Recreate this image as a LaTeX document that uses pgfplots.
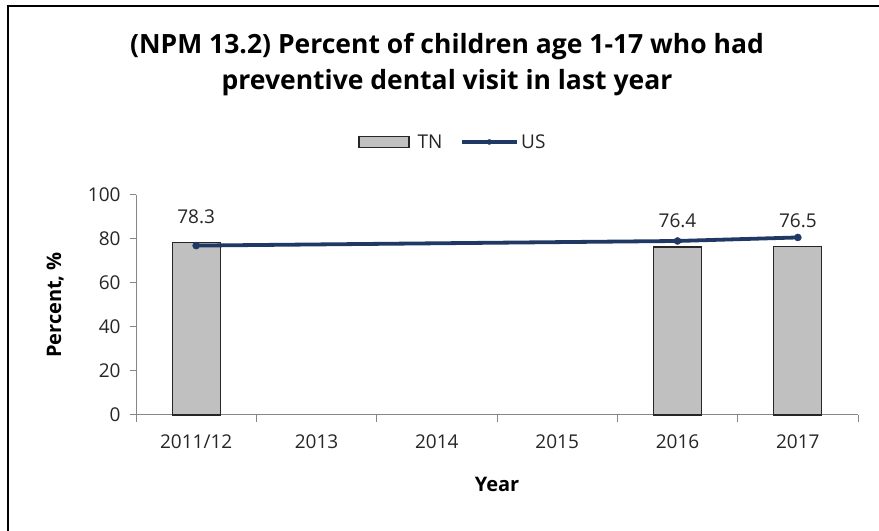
\documentclass[border=0pt]{standalone}
\usepackage{pgfplots}
\pgfplotsset{compat=1.18}
\usepackage{fontspec}
\setmainfont{Open Sans}

\definecolor{usblue}{HTML}{1F3864}
\definecolor{tngray}{HTML}{C0C0C0}
\definecolor{axisgray}{HTML}{868686}
\definecolor{txt}{HTML}{262626}

\pgfplotsset{
  /pgf/number format/assume math mode=true,
  tnlegend/.style={legend image code/.code={\draw[##1] (0bp,-5.5bp) rectangle (50bp,5.5bp); \path (56bp,0bp);}},
  uslegend/.style={legend image code/.code={\draw[##1, mark repeat=2, mark phase=2, mark size=2.5bp] plot coordinates {(0bp,0bp) (27bp,0bp) (55bp,0bp)};}},
}

\begin{document}
\begin{tikzpicture}
\path[use as bounding box] (0bp,0bp) rectangle (879bp,531bp);
\fill[white] (0bp,0bp) rectangle (879bp,531bp);
% chart frame (top and left edges)
\draw[line width=2bp, black] (8bp,0bp) -- (8bp,525bp) -- (879bp,525bp);
% title
\node[font=\fontsize{26.5bp}{36bp}\selectfont\bfseries, align=center, text=black]
  at (447bp,466bp) {(NPM 13.2) Percent of children age 1-17 who had\\preventive dental visit in last year};

\begin{axis}[
  at={(136bp,116bp)}, anchor=south west,
  scale only axis, width=722bp, height=220bp,
  xmin=-0.5, xmax=5.5, ymin=0, ymax=100,
  axis x line*=bottom, axis y line*=left,
  axis line style={axisgray, line width=1bp, -},
  xtick={0,...,5},
  xticklabels={2011/12,2013,2014,2015,2016,2017},
  major x tick style={draw=none},
  minor xtick={-0.5,0.5,...,5.5},
  minor tick length=7bp,
  ytick={0,20,...,100},
  major tick length=6bp,
  tick align=outside,
  tick style={axisgray, line width=1bp},
  ticklabel style={font=\fontsize{19bp}{22bp}\selectfont, text=txt},
  xticklabel style={yshift=-10bp},
  yticklabel style={xshift=-6bp},
  xlabel={Year},
  ylabel={Percent, \%},
  label style={font=\fontsize{20bp}{24bp}\selectfont\bfseries, text=black},
  xlabel style={at={(axis description cs:0.5,-0.318)}, anchor=center},
  ylabel style={at={(axis description cs:-0.112,0.5)}, anchor=center},
  legend columns=2,
  legend style={at={(axis description cs:0.439,1.241)}, anchor=center,
    draw=none, fill=none, font=\fontsize{19bp}{22bp}\selectfont, text=txt,
    /tikz/every even column/.append style={column sep=16bp}},
  clip=false,
]
\addplot[ybar, bar width=48bp, fill=tngray, draw=black!85, line width=1.2bp,
  nodes near coords={\pgfmathprintnumber[fixed,precision=1,zerofill]{\pgfplotspointmeta}},
  nodes near coords style={anchor=center, yshift=26bp, font=\fontsize{19bp}{22bp}\selectfont, text=txt},
  tnlegend]
  coordinates {(0,78.3) (4,76.4) (5,76.5)};
\addlegendentry{TN}
\addplot[usblue, line width=3.8bp, mark=*, mark size=3.5bp,
  mark options={solid, fill=usblue, line width=0.5bp},
  uslegend]
  coordinates {(0,77.0) (4,79.1) (5,80.7)};
\addlegendentry{US}
\end{axis}
\end{tikzpicture}
\end{document}
